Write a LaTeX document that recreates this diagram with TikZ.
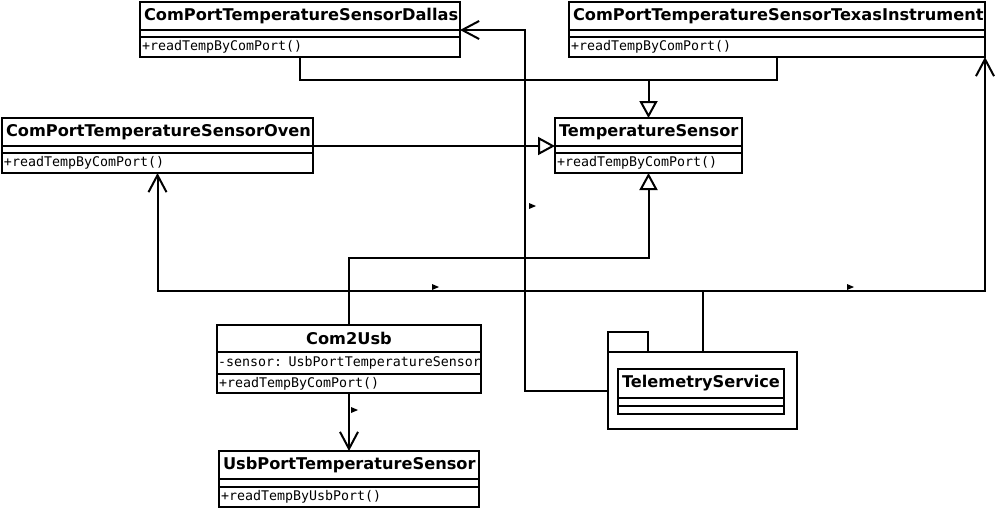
\documentclass[tikz,border=0pt]{standalone}
\usepackage{fontspec}
\setmainfont{DejaVu Sans}
\setmonofont{DejaVu Sans Mono}
\usetikzlibrary{arrows.meta,positioning}

\newcommand{\namefont}{\fontsize{16.2}{18}\selectfont\bfseries}
\newcommand{\opfont}{\fontsize{13.3}{15}\selectfont\ttfamily}

\begin{document}
\begin{tikzpicture}[
    x=1pt, y=-1pt,
    line width=2pt,
    every node/.append style={outer sep=0pt},
    title/.style={draw, anchor=north west, inner xsep=4pt, inner ysep=0pt, minimum height=28pt, align=left, font=\namefont},
    slot/.style={draw, inner xsep=2pt, inner ysep=0pt, align=left, font=\opfont},
    inherit/.style={-{Triangle[open, length=17pt, width=18pt]}},
    assoc/.style={-{Straight Barb[length=17pt, width=18pt]}},
    dirmark/.style={fill=black, line width=0pt}
]
    \useasboundingbox (0,0) rectangle (1001,509);

    % Top row
    \node[title, text width=312pt] (dallasT) at (140,2) {ComPortTemperatureSensorDallas};
    \node[slot, below=0pt of dallasT, text width=316pt, minimum height=7pt] (dallasA) {};
    \node[slot, below=0pt of dallasA, text width=316pt, minimum height=20pt] (dallasM) {+readTempByComPort()};

    \node[title, text width=408pt] (texasT) at (569,2) {ComPortTemperatureSensorTexasInstrument};
    \node[slot, below=0pt of texasT, text width=412pt, minimum height=7pt] (texasA) {};
    \node[slot, below=0pt of texasA, text width=412pt, minimum height=20pt] (texasM) {+readTempByComPort()};

    % Second row
    \node[title, text width=303pt] (ovenT) at (2,118) {ComPortTemperatureSensorOven};
    \node[slot, below=0pt of ovenT, text width=307pt, minimum height=7pt] (ovenA) {};
    \node[slot, below=0pt of ovenA, text width=307pt, minimum height=20pt] (ovenM) {+readTempByComPort()};

    \node[title, text width=179pt] (tsT) at (555,118) {TemperatureSensor};
    \node[slot, below=0pt of tsT, text width=183pt, minimum height=7pt] (tsA) {};
    \node[slot, below=0pt of tsA, text width=183pt, minimum height=20pt] (tsM) {+readTempByComPort()};

    % Adapter and usb sensor
    \node[title, align=center, text width=256pt, minimum height=27pt] (c2uT) at (217,325) {Com2Usb};
    \node[slot, below=0pt of c2uT, inner xsep=1pt, text width=262pt, minimum height=22pt] (c2uA) {\mbox{-sensor: UsbPortTemperatureSensor}};
    \node[slot, below=0pt of c2uA, text width=260pt, minimum height=19pt] (c2uM) {+readTempByComPort()};

    \node[title, text width=252pt] (usbT) at (219,451) {UsbPortTemperatureSensor};
    \node[slot, below=0pt of usbT, text width=256pt, minimum height=8pt] (usbA) {};
    \node[slot, below=0pt of usbA, text width=256pt, minimum height=20pt] (usbM) {+readTempByUsbPort()};

    % Package
    \node[draw, anchor=north west, minimum width=189pt, minimum height=77pt, inner sep=0pt] (pkg) at (608,352) {};
    \node[draw, anchor=south west, minimum width=40pt, minimum height=20pt, inner sep=0pt] (pkgtab) at (pkg.north west) {};
    \node[title, align=center, text width=158pt, minimum height=29pt] (telT) at (618,369) {TelemetryService};
    \node[slot, below=0pt of telT, text width=162pt, minimum height=8pt] (telA) {};
    \node[slot, below=0pt of telA, text width=162pt, minimum height=8pt] (telM) {};

    % Generalizations
    \coordinate (gen) at (tsT.north |- 0,80);
    \draw (dallasM.south) |- (gen);
    \draw (texasM.south) |- (gen);
    \draw[inherit] (gen) -- (tsT.north);
    \draw[inherit] (ovenT.south east) -- (tsT.south west);
    \draw[inherit] (c2uT.north) -- ++(0,-67) -| (tsM.south);

    % Associations
    \draw[assoc] (c2uM.south) -- (usbT.north);
    \draw[assoc] (pkg.west) -- ++(-83,0) |- (dallasT.south east);
    \draw (pkg.north) -- ++(0,-61) coordinate (hub);
    \draw[assoc] (hub) -| (ovenM.south);
    \draw[assoc] (hub) -| (texasM.south east);

    % direction marks
    \fill[dirmark] (529,203) -- (529,209) -- (536,206) -- cycle;
    \fill[dirmark] (432,284) -- (432,290) -- (439,287) -- cycle;
    \fill[dirmark] (847,284) -- (847,290) -- (854,287) -- cycle;
    \fill[dirmark] (351,407) -- (351,413) -- (358,410) -- cycle;
\end{tikzpicture}
\end{document}
